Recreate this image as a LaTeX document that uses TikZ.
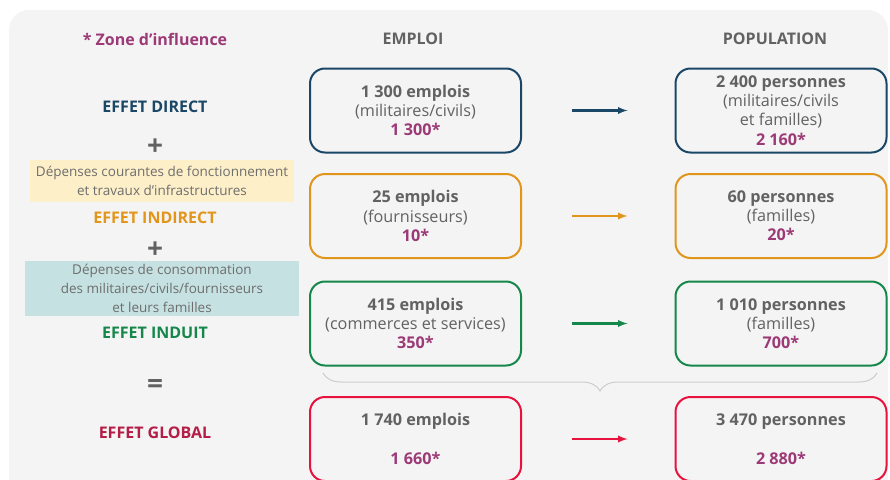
\documentclass[tikz,border=0pt]{standalone}
\usepackage{fontspec}
\setmainfont{Open Sans}
\usepackage{xcolor}
\usepackage{tikz}
\usetikzlibrary{
  calc,
  positioning,
  arrows,
  decorations.pathreplacing
}
\tikzset{>=latex}
\definecolor{fond}{HTML}{F4F4F4}
\definecolor{gristxt}{HTML}{626262}
\definecolor{grisdep}{HTML}{6E6E6E}
\definecolor{zonecol}{HTML}{9C3A77}
\definecolor{bleu}{HTML}{1B4766}
\definecolor{orange}{HTML}{E2951B}
\definecolor{vert}{HTML}{15874A}
\definecolor{rouge}{HTML}{E8123F}
\definecolor{rougetxt}{HTML}{B41D45}
\definecolor{jaune}{HTML}{FDEFC8}
\definecolor{turquoise}{HTML}{C6E1E2}
\definecolor{accolade}{HTML}{CDCDCD}
\newcommand{\zone}[1]{{\bfseries\color{zonecol}#1}}

\begin{document}
\begin{tikzpicture}[x=1pt,y=-1pt,
		every node/.style={font=\fontsize{16.2}{19.2}\selectfont, text=gristxt},
		boite/.style={draw, line width=2pt, rounded corners=15pt, minimum width=211pt, minimum height=84pt, align=center, inner sep=0pt},
		effet/.style={font=\fontsize{16}{19.2}\selectfont\bfseries},
		signe/.style={font=\fontsize{28}{28}\selectfont\bfseries},
		depense/.style={align=center, font=\fontsize{13.5}{18.8}\selectfont, text=grisdep, inner sep=0pt},
		fleche/.style={->, line width=2.2pt, shorten <=50pt, shorten >=47pt}]
			\useasboundingbox (0,0) rectangle (890,479);
			\fill[fond, rounded corners=20pt] (9,10) rectangle (888,530);

			\node[effet, text=zonecol] (zonetitre) at (155,39) {* Zone d’influence};
			\node[effet] (emploititre) at (413,39) {EMPLOI};
			\node[effet] (poptitre) at (775,39) {POPULATION};

			\node[effet, text=bleu] (direct) at (155,107) {EFFET DIRECT};
			\node[signe] (plusa) at (155,147) {+};
			\node[depense, fill=jaune, minimum width=264pt, minimum height=42pt] (depa) at (162,180.5) {Dépenses courantes de fonctionnement\\et travaux d’infrastructures};
			\node[effet, text=orange] (indirect) at (155,218) {EFFET INDIRECT};
			\node[signe] (plusb) at (155,250) {+};
			\node[depense, fill=turquoise, minimum width=274pt, minimum height=55pt] (depb) at (162,288.5) {Dépenses de consommation\\des militaires/civils/fournisseurs\\et leurs familles};
			\node[effet, text=vert] (induit) at (155,333) {EFFET INDUIT};
			\node[signe] (egal) at (155,386) {=};
			\node[effet, text=rougetxt] (global) at (155,433) {EFFET GLOBAL};

			\node[boite, draw=bleu] (emploidirect) at (415.5,110.5) {\textbf{1 300 emplois}\\(militaires/civils)\\\zone{1 300*}};
			\node[boite, draw=bleu] (popdirect) at (781,110.5) {\textbf{2 400 personnes}\\(militaires/civils\\et familles)\\\zone{2 160*}};
			\node[boite, draw=orange] (emploiindirect) at (415.5,216) {\textbf{25 emplois}\\(fournisseurs)\\\zone{10*}};
			\node[boite, draw=orange] (popindirect) at (781,216) {\textbf{60 personnes}\\(familles)\\\zone{20*}};
			\node[boite, draw=vert] (emploiinduit) at (415.5,323.5) {\textbf{415 emplois}\\(commerces et services)\\\zone{350*}};
			\node[boite, draw=vert] (popinduit) at (781,323.5) {\textbf{1 010 personnes}\\(familles)\\\zone{700*}};
			\node[boite, draw=rouge] (emploiglobal) at (415.5,439) {\textbf{1 740 emplois}\\\mbox{}\\\zone{1 660*}};
			\node[boite, draw=rouge] (popglobal) at (781,439) {\textbf{3 470 personnes}\\\mbox{}\\\zone{2 880*}};

			\draw[fleche, bleu] (emploidirect) -- (popdirect);
			\draw[fleche, orange] (emploiindirect) -- (popindirect);
			\draw[fleche, vert] (emploiinduit) -- (popinduit);
			\draw[fleche, rouge] (emploiglobal) -- (popglobal);

			\coordinate (accgauche) at (323,373);
			\coordinate (accdroite) at (877,373);
			\draw[accolade, line width=1pt, decorate, decoration={brace, mirror, amplitude=18pt}] (accgauche) -- (accdroite);
		\end{tikzpicture}
\end{document}
